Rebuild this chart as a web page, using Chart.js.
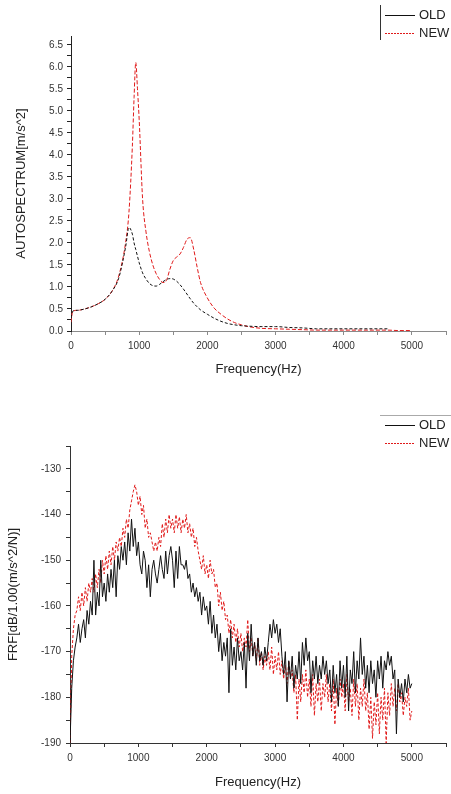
<!DOCTYPE html>
<html>
<head>
<meta charset="utf-8">
<script src="https://cdn.jsdelivr.net/npm/chart.js@4/dist/chart.umd.min.js"></script>
<style>
  body { margin: 0; background: #fff; }
  #wrap { position: relative; width: 451px; height: 794px; }
  #c1 { position: absolute; left: 0; top: 0; }
  #c2 { position: absolute; left: 0; top: 390px; }
</style>
</head>
<body>
<div id="wrap">
  <canvas id="c1" width="451" height="390"></canvas>
  <canvas id="c2" width="451" height="404"></canvas>
</div>
<script>
// ---------------- datos ----------------
const seriesNames = ['OLD', 'NEW'];

// autospectro (Hz)
const freqAuto = [0, 25, 100, 200, 300, 400, 500, 600, 700, 800, 850, 900, 925, 950, 975, 1000,
  1050, 1100, 1150, 1200, 1250, 1300, 1350, 1400, 1450, 1500, 1550, 1600, 1650, 1700, 1750,
  1800, 1850, 1900, 2000, 2100, 2200, 2300, 2400, 2500, 2600, 2800, 3000, 3200, 3400, 3600,
  3800, 4000, 4200, 4400, 4650, 4800, 5000];
const oldAuto = [0.3, 0.45, 0.47, 0.5, 0.55, 0.62, 0.72, 0.9, 1.2, 1.9, 2.35, 2.2, 2.0, 1.85, 1.7, 1.55,
  1.32, 1.18, 1.08, 1.03, 1.02, 1.06, 1.12, 1.17, 1.19, 1.18, 1.13, 1.05, 0.95, 0.84, 0.73,
  0.63, 0.55, 0.48, 0.38, 0.29, 0.22, 0.17, 0.14, 0.12, 0.11, 0.1, 0.1, 0.08, 0.07, 0.05,
  0.05, 0.05, 0.05, 0.05, 0.05, null, null];
const newAuto = [0.2, 0.45, 0.47, 0.5, 0.55, 0.62, 0.72, 0.9, 1.25, 2.0, 2.7, 4.2, 5.3, 6.1, 5.5, 4.8,
  3.0, 2.25, 1.8, 1.5, 1.3, 1.17, 1.1, 1.15, 1.4, 1.6, 1.68, 1.75, 1.9, 2.08, 2.12,
  1.85, 1.45, 1.1, 0.75, 0.52, 0.38, 0.27, 0.19, 0.14, 0.1, 0.06, 0.05, 0.04, 0.03, 0.02,
  0.02, 0.02, 0.02, 0.02, 0.02, 0.01, 0.01];

// FRF, un punto cada 25 Hz desde 0 hasta 5000
const frfStep = 25;
const oldFrf = [-190, -178, -172, -169, -167, -164, -168, -165, -163, -167,
  -161, -164, -159, -162, -150, -162, -157, -160, -150, -158,
  -155, -159, -153, -157, -152, -156, -150, -158, -149, -152,
  -147, -150, -146, -151, -144, -148, -141, -147, -143, -149,
  -146, -151, -153, -148, -150, -156, -151, -158, -152, -150,
  -153, -155, -152, -149, -152, -154, -148, -153, -149, -147,
  -150, -156, -148, -154, -147, -151, -151, -152, -150, -154,
  -153, -157, -155, -158, -156, -159, -157, -162, -158, -161,
  -160, -164, -159, -166, -162, -167, -164, -170, -166, -172,
  -168, -171, -167, -179, -165, -173, -169, -174, -167, -172,
  -170, -174, -168, -178, -166, -172, -164, -171, -168, -173,
  -167, -172, -170, -173, -169, -172, -168, -164, -167, -163,
  -166, -164, -168, -165, -171, -175, -170, -181, -172, -176,
  -171, -178, -173, -176, -170, -177, -168, -173, -167, -172,
  -170, -179, -172, -176, -171, -177, -173, -176, -171, -175,
  -172, -177, -174, -181, -173, -179, -175, -182, -172, -178,
  -173, -180, -171, -183, -174, -177, -170, -179, -172, -176,
  -167, -175, -171, -178, -173, -179, -172, -177, -174, -180,
  -172, -176, -171, -178, -172, -174, -170, -173, -171, -176,
  -174, -188, -176, -180, -177, -181, -176, -179, -175, -178, -177];
const newFrf = [-190, -171, -165, -162, -161, -158, -161, -157, -160, -156,
  -159, -155, -157, -154, -157, -153, -156, -152, -155, -150,
  -153, -149, -152, -148, -151, -147, -150, -146, -148, -145,
  -147, -143, -145, -141, -143, -139, -137, -135, -133.5, -135,
  -138, -136, -140, -138, -143, -141, -145, -144, -146, -148,
  -146, -148, -145, -147, -142, -145, -141, -144, -140, -143,
  -141, -144, -140, -143, -140.5, -144, -141, -143, -140, -144,
  -142, -145, -143, -147, -145, -148, -150, -152, -149, -153,
  -151, -154, -150, -153, -152, -156, -155, -160, -157, -161,
  -159, -163, -162, -166, -163, -167, -164, -168, -165, -169,
  -166, -170, -167, -169, -163, -170, -167, -171, -168, -172,
  -167, -173, -170, -174, -171, -173, -170, -174, -169, -175,
  -171, -174, -170, -175, -172, -176, -173, -177, -172, -176,
  -174, -179, -175, -185, -176, -181, -175, -179, -174, -180,
  -176, -182, -175, -184, -177, -181, -176, -183, -177, -180,
  -175, -181, -177, -183, -176, -186, -178, -182, -176, -180,
  -177, -183, -175, -181, -178, -184, -176, -182, -177, -185,
  -178, -182, -176, -183, -179, -187, -180, -189, -181, -186,
  -179, -188, -180, -185, -178, -190, -179, -184, -177, -182,
  -178, -183, -177, -181, -179, -184, -180, -182, -178, -185, -183];

const xTickLabels = [0, 1000, 2000, 3000, 4000, 5000];

// ---------------- estilos ----------------
const colOld = '#111111';
const colNew = '#e01a1a';
const fontName = '"Liberation Sans", Arial, sans-serif';

function toXY(xs, ys) {
  return ys.map((y, i) => ({ x: xs[i], y: y }));
}
const freqFrf = oldFrf.map((v, i) => i * frfStep);

// marcas del eje: de min a top cada paso
function tickList(min, top, step) {
  const out = [];
  for (let v = min; v <= top + 1e-9; v += step) out.push({ value: Math.round(v * 1000) / 1000 });
  return out;
}

function xAxis(axisColor, h) {
  return {
    type: 'linear', min: 0, max: 5500,
    border: { display: true, color: axisColor, width: 1 },
    grid: { display: true, drawOnChartArea: false, drawTicks: true, tickLength: 4, color: axisColor },
    ticks: {
      stepSize: 500, autoSkip: false, maxRotation: 0, padding: 5,
      color: '#333', font: { family: fontName, size: 10 },
      callback: v => xTickLabels.includes(v) ? String(v) : ''
    },
    title: { display: true, text: 'Frequency(Hz)', color: '#222', font: { family: fontName, size: 13 } },
    afterFit: s => { s.height = h; }
  };
}

function legendPlugin(frame, rows) {
  return {
    id: 'leyenda',
    afterDraw(chart) {
      const ctx = chart.ctx;
      ctx.save();
      ctx.lineWidth = 1;
      ctx.strokeStyle = frame.color;
      ctx.beginPath();
      ctx.moveTo(frame.x1, frame.y1);
      ctx.lineTo(frame.x2, frame.y2);
      ctx.stroke();
      chart.data.datasets.forEach((ds, i) => {
        const y = rows[i] + 0.5;
        ctx.strokeStyle = ds.borderColor;
        ctx.setLineDash(i === 0 ? [] : [2, 1]);
        ctx.beginPath();
        ctx.moveTo(385, y);
        ctx.lineTo(415, y);
        ctx.stroke();
        ctx.setLineDash([]);
        ctx.fillStyle = '#222';
        ctx.font = '13px ' + fontName;
        ctx.textBaseline = 'middle';
        ctx.fillText(ds.label, 419, y);
      });
      ctx.restore();
    }
  };
}

// ---------------- grafico 1: autospectrum ----------------
new Chart(document.getElementById('c1'), {
  type: 'line',
  data: {
    datasets: [
      { label: seriesNames[0], data: toXY(freqAuto, oldAuto), borderColor: colOld, borderWidth: 1,
        borderDash: [3, 2], pointRadius: 0, cubicInterpolationMode: 'monotone' },
      { label: seriesNames[1], data: toXY(freqAuto, newAuto), borderColor: colNew, borderWidth: 1,
        borderDash: [4, 2], pointRadius: 0, cubicInterpolationMode: 'monotone' }
    ]
  },
  options: {
    responsive: false, animation: false, devicePixelRatio: 1,
    layout: { padding: { left: 10, top: 36, right: 3, bottom: 9 } },
    plugins: { legend: { display: false }, tooltip: { enabled: false } },
    scales: {
      x: xAxis('#8a8a8a', 50),
      y: {
        type: 'linear', min: 0, max: 6.7,
        border: { display: true, color: '#222', width: 1 },
        grid: { display: true, drawOnChartArea: false, drawTicks: true, tickLength: 4, color: '#222' },
        ticks: {
          autoSkip: false, padding: 4,
          color: '#333', font: { family: fontName, size: 10 },
          callback: v => Math.abs(v * 2 - Math.round(v * 2)) < 1e-6 ? v.toFixed(1) : ''
        },
        afterBuildTicks: s => { s.ticks = tickList(0, 6.5, 0.25); },
        title: { display: true, text: 'AUTOSPECTRUM[m/s^2]', color: '#222', font: { family: fontName, size: 13 } },
        afterFit: s => { s.width = 61; }
      }
    }
  },
  plugins: [legendPlugin({ color: '#333', x1: 380.5, y1: 5, x2: 380.5, y2: 40 }, [15, 33])]
});

// ---------------- grafico 2: FRF ----------------
new Chart(document.getElementById('c2'), {
  type: 'line',
  data: {
    datasets: [
      { label: seriesNames[0], data: toXY(freqFrf, oldFrf), borderColor: colOld, borderWidth: 1,
        pointRadius: 0, tension: 0 },
      { label: seriesNames[1], data: toXY(freqFrf, newFrf), borderColor: colNew, borderWidth: 1,
        borderDash: [3, 2], pointRadius: 0, tension: 0 }
    ]
  },
  options: {
    responsive: false, animation: false, devicePixelRatio: 1,
    layout: { padding: { left: 2, top: 56, right: 4, bottom: 0 } },
    plugins: { legend: { display: false }, tooltip: { enabled: false } },
    scales: {
      x: xAxis('#333', 51),
      y: {
        type: 'linear', min: -190, max: -125,
        border: { display: true, color: '#333', width: 1 },
        grid: { display: true, drawOnChartArea: false, drawTicks: true, tickLength: 4, color: '#333' },
        ticks: {
          stepSize: 5, autoSkip: false, padding: 5,
          color: '#333', font: { family: fontName, size: 10 },
          callback: v => v % 10 === 0 ? String(v) : ''
        },
        title: { display: true, text: 'FRF[dB/1.00(m/s^2/N)]', color: '#222', font: { family: fontName, size: 13 } },
        afterFit: s => { s.width = 68; }
      }
    }
  },
  plugins: [legendPlugin({ color: '#aaa', x1: 380, y1: 25.5, x2: 451, y2: 25.5 }, [35, 53])]
});
</script>
</body>
</html>
